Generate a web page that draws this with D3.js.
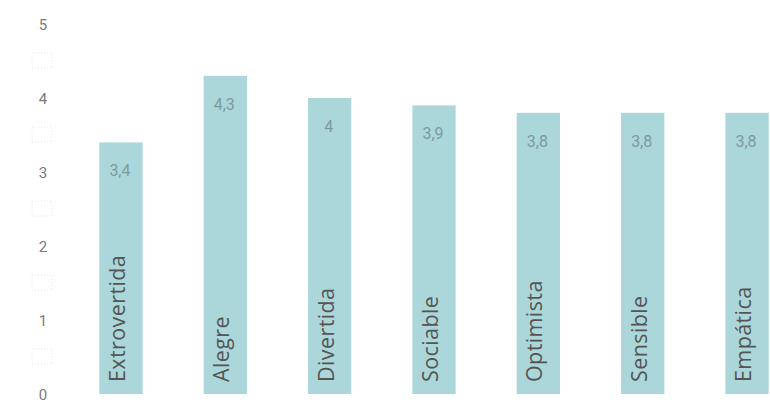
<!DOCTYPE html>
<html>
<head>
<meta charset="utf-8">
<script src="https://cdn.jsdelivr.net/npm/d3@7"></script>
<style>
  html, body { margin: 0; padding: 0; background: #fff; }
  svg { display: block; }
</style>
</head>
<body>
<svg id="chart" width="770" height="406"></svg>
<script>
// Rasgos de personalidad y puntuación media (escala 0–5)
const categories = ["Extrovertida", "Alegre", "Divertida", "Sociable", "Optimista", "Sensible", "Empática"];
const values = [3.4, 4.3, 4.0, 3.9, 3.8, 3.8, 3.8];
const valueLabels = ["3,4", "4,3", "4", "3,9", "3,8", "3,8", "3,8"];
const yTicks = [0, 1, 2, 3, 4, 5];
const yHalfTicks = [0.5, 1.5, 2.5, 3.5, 4.5];

const svg = d3.select("#chart");
const numFont = "'Roboto', 'DejaVu Sans', sans-serif";
const catFont = "'Open Sans', 'Noto Sans', sans-serif";

const x = d3.scaleBand()
  .domain(categories)
  .range([68, 800])
  .paddingInner(0.585)
  .paddingOuter(0.3);

const y = d3.scaleLinear().domain([0, 5]).range([394, 24]);

// Eje Y: solo etiquetas, sin línea
const yAxis = d3.axisLeft(y).tickValues(yTicks).tickSize(0).tickPadding(0)
  .tickFormat(d3.format("d"));
const gy = svg.append("g").attr("transform", "translate(43,0)").call(yAxis);
gy.select(".domain").remove();
gy.selectAll("text")
  .attr("font-family", numFont)
  .attr("font-size", 15)
  .attr("fill", "#7a7a7a")
  .attr("text-anchor", "middle")
  .attr("dy", "0.35em");

// Marcadores de medio punto (recuadros vacíos)
svg.append("g").selectAll("rect")
  .data(yHalfTicks)
  .join("rect")
  .attr("x", 32).attr("y", d => y(d) - 8)
  .attr("width", 20).attr("height", 15)
  .attr("fill", "#fff")
  .attr("stroke", "#e6e6e6")
  .attr("stroke-dasharray", "1,2")
  .attr("stroke-width", 1);

// Barras
svg.append("g").selectAll("rect")
  .data(values)
  .join("rect")
  .attr("x", (d, i) => x(categories[i]))
  .attr("y", d => y(d))
  .attr("width", x.bandwidth())
  .attr("height", d => y(0) - y(d))
  .attr("fill", "#abd7da");

// Valores dentro de la barra
svg.append("g").selectAll("text")
  .data(values)
  .join("text")
  .attr("x", (d, i) => x(categories[i]) + x.bandwidth() / 2 - 1)
  .attr("y", d => y(d) + 34)
  .attr("text-anchor", "middle")
  .attr("font-family", numFont)
  .attr("font-size", 16)
  .attr("fill", "#7d9a9e")
  .text((d, i) => valueLabels[i]);

// Nombres de categoría, en vertical
svg.append("g").selectAll("text")
  .data(categories)
  .join("text")
  .attr("transform", d => `translate(${x(d) + x.bandwidth() / 2 + 4},382) rotate(-90)`)
  .attr("text-anchor", "start")
  .attr("font-family", catFont)
  .attr("font-size", 21.5)
  .attr("letter-spacing", 0.4)
  .attr("fill", "#555")
  .text(d => d);
</script>
</body>
</html>
